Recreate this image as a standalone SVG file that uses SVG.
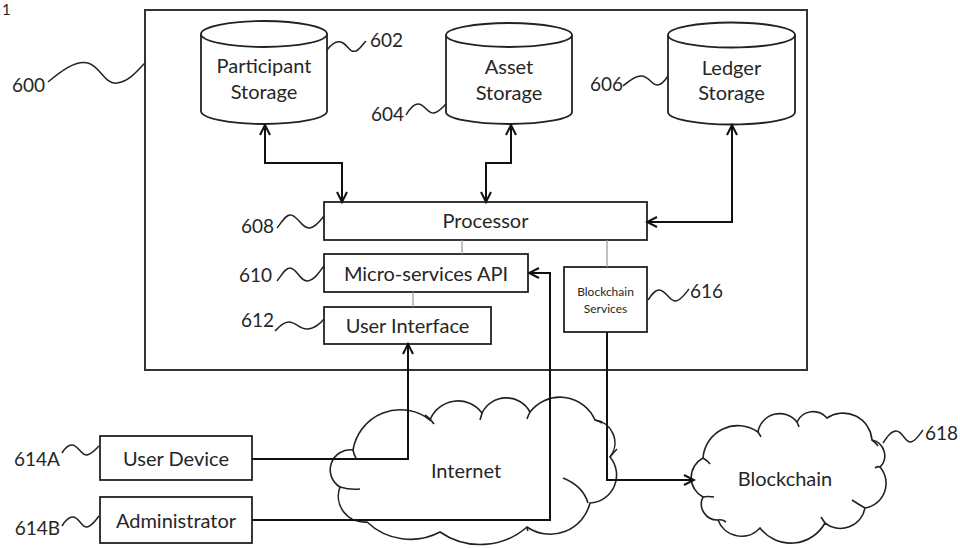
<svg xmlns="http://www.w3.org/2000/svg" width="960" height="548" viewBox="0 0 960 548">
<defs>
<style>
.t{font-family:Lato,"Liberation Sans",sans-serif;font-size:20px;fill:#262626;text-anchor:middle}
.n{font-family:Lato,"Liberation Sans",sans-serif;font-size:19px;fill:#262626}
.s{font-family:Lato,"Liberation Sans",sans-serif;font-size:12px;fill:#262626;text-anchor:middle}
.box{fill:#fff;stroke:#222;stroke-width:1.8}
.sq{fill:none;stroke:#222;stroke-width:1.5}
.cl{fill:#fff;stroke:#222;stroke-width:1.6}
.ci{fill:none;stroke:#222;stroke-width:1.6}
.c{fill:none;stroke:#111;stroke-width:2}
.thin{fill:none;stroke:#999;stroke-width:1.2}
</style>
<marker id="arr" viewBox="-12 -7 14 14" refX="0" refY="0" markerWidth="14" markerHeight="14" markerUnits="userSpaceOnUse" orient="auto-start-reverse">
<path d="M-10,-5 L0,0 L-10,5" fill="none" stroke="#111" stroke-width="2"/>
</marker>
</defs>
<rect width="960" height="548" fill="#fff"/>
<text x="2" y="15" class="n" style="font-size:15px">1</text>

<g id="system600">
<rect x="145" y="10" width="662" height="360" fill="none" stroke="#333" stroke-width="2"/>
<path class="sq" d="M48,82 C60,72 75,60 88,63 C100,66 105,85 117,83 C130,81 138,70 145,63"/>
<text x="45" y="92" class="n" text-anchor="end">600</text>
</g>

<g id="participant-storage">
<path class="box" d="M201,34 V111 A63,13 0 0 0 327,111 V34"/>
<ellipse class="box" cx="264" cy="34" rx="63" ry="13"/>
<text x="264" y="73" class="t">Participant</text>
<text x="264" y="99" class="t">Storage</text>
<path class="sq" d="M327,50 C333,42 338,40 343,43 C348,46 350,53 356,51 C360,49 362,45 366,41"/>
<text x="370" y="47" class="n">602</text>
</g>

<g id="asset-storage">
<path class="box" d="M446,35 V112 A63,12 0 0 0 572,112 V35"/>
<ellipse class="box" cx="509" cy="35" rx="63" ry="12"/>
<text x="509" y="74" class="t">Asset</text>
<text x="509" y="100" class="t">Storage</text>
<path class="sq" d="M406,115 C410,108 414,103 419,104 C425,105 428,114 434,113 C439,112 442,108 446,104"/>
<text x="404" y="121" class="n" text-anchor="end">604</text>
</g>

<g id="ledger-storage">
<path class="box" d="M668,35 V112 A63.5,12.5 0 0 0 795,112 V35"/>
<ellipse class="box" cx="731.5" cy="35" rx="63.5" ry="12.5"/>
<text x="731.5" y="75" class="t">Ledger</text>
<text x="731.5" y="100" class="t">Storage</text>
<path class="sq" d="M623,86 C628,82 635,75 642,76 C650,77 652,86 658,85 C663,84 665,80 668,76"/>
<text x="623" y="91" class="n" text-anchor="end">606</text>
</g>

<g id="processor">
<rect class="box" x="324" y="202" width="323" height="38"/>
<text x="485.5" y="228" class="t">Processor</text>
<path class="sq" d="M277,228 C282,222 286,214 291,215 C298,216 302,229 310,228 C316,227 320,221 324,216"/>
<text x="274" y="233" class="n" text-anchor="end">608</text>
</g>

<g id="micro-services-api">
<rect class="box" x="324" y="254" width="204" height="38"/>
<text x="426" y="281" class="t">Micro-services API</text>
<path class="sq" d="M277,281 C282,275 285,268 290,268 C297,268 300,282 308,281 C315,280 319,272 324,266"/>
<text x="272" y="282" class="n" text-anchor="end">610</text>
</g>

<g id="user-interface">
<rect class="box" x="324" y="307" width="167" height="37"/>
<text x="407.5" y="333" class="t">User Interface</text>
<path class="sq" d="M275,331 C280,326 284,322 289,322 C296,322 300,330 308,329 C315,328 320,324 324,319"/>
<text x="274" y="327" class="n" text-anchor="end">612</text>
</g>

<g id="blockchain-services">
<rect class="box" x="564" y="267" width="83" height="65"/>
<text x="605.5" y="296" class="s">Blockchain</text>
<text x="605.5" y="313" class="s">Services</text>
<path class="sq" d="M648,300 C652,294 655,290 659,290 C666,290 670,302 676,301 C681,300 685,294 689,289"/>
<text x="690" y="298" class="n">616</text>
</g>

<g id="user-device">
<rect class="box" x="100" y="436" width="152" height="44"/>
<text x="176" y="466" class="t">User Device</text>
<path class="sq" d="M62,453 C65,448 68,445 72,445 C78,445 82,456 87,455 C92,454 95,450 99,446"/>
<text x="60" y="466" class="n" text-anchor="end">614A</text>
</g>

<g id="administrator">
<rect class="box" x="100" y="497" width="152" height="46"/>
<text x="176" y="528" class="t">Administrator</text>
<path class="sq" d="M62,526 C65,521 68,517 73,517 C79,517 82,528 87,527 C92,526 95,521 99,516"/>
<text x="60" y="535" class="n" text-anchor="end">614B</text>
</g>

<g id="internet">
<path class="cl" d="M340,487 A20,20 0 0 1 353,450 A48,48 0 0 1 430,420 A30,30 0 0 1 482,413 A27,27 0 0 1 530,412 A38,38 0 0 1 595,420 A23,23 0 0 1 610,457 A28,28 0 0 1 590,503 A41,41 0 0 1 527,527 A71,71 0 0 1 440,532 A63,63 0 0 1 367,522 A26,26 0 0 1 340,487 Z"/>
<path class="ci" d="M353,450 Q354,455 356,458 M425,415 Q430,418 434,424 M482,413 Q481,417 480,420 M530,412 Q528,416 527,419 M595,420 Q599,421 602,423 M610,457 Q614,452 617,449 M563,478 Q583,486 588,503 M340,487 Q350,490 360,489 M527,527 Q527,529 528,531"/>
<text x="466" y="478" class="t">Internet</text>
</g>

<g id="blockchain">
<path class="cl" d="M703,458 A35,35 0 0 1 758,432 A22,22 0 0 1 797,422 A18,18 0 0 1 827,418 A29,29 0 0 1 872,440 A16,16 0 0 1 880,467 A25,25 0 0 1 865,508 A25,25 0 0 1 825,523 A39,39 0 0 1 760,528 A25,25 0 0 1 718,520 A16,16 0 0 1 703,497 A22,22 0 0 1 703,458 Z"/>
<path class="ci" d="M703,458 Q708,461 710,464 M758,432 Q760,435 761,437 M797,422 Q798,424 799,427 M872,440 Q876,443 878,446 M880,467 Q878,466 875,468 M865,508 Q858,504 852,500 M825,523 Q823,520 821,517 M718,520 Q722,519 726,522 M703,497 Q708,496 714,497"/>
<text x="785" y="486" class="t">Blockchain</text>
<path class="sq" d="M883,443 C887,437 891,431 896,431 C903,431 905,443 911,442 C916,441 919,435 923,430"/>
<text x="925" y="440" class="n">618</text>
</g>

<g id="connectors">
<path class="c" d="M265,125 V163 H342 V202" marker-start="url(#arr)" marker-end="url(#arr)"/>
<path class="c" d="M511,125 V163 H486 V202" marker-start="url(#arr)" marker-end="url(#arr)"/>
<path class="c" d="M732,125 V222 H647" marker-start="url(#arr)" marker-end="url(#arr)"/>
<path class="c" d="M252,459 H408 V344" marker-end="url(#arr)"/>
<path class="c" d="M252,520 H550 V273 H529" marker-end="url(#arr)"/>
<path class="c" d="M607,332 V480 H694" marker-end="url(#arr)"/>
<path class="thin" d="M462,240 V254 M413,292 V307 M607,240 V267"/>
</g>
</svg>
